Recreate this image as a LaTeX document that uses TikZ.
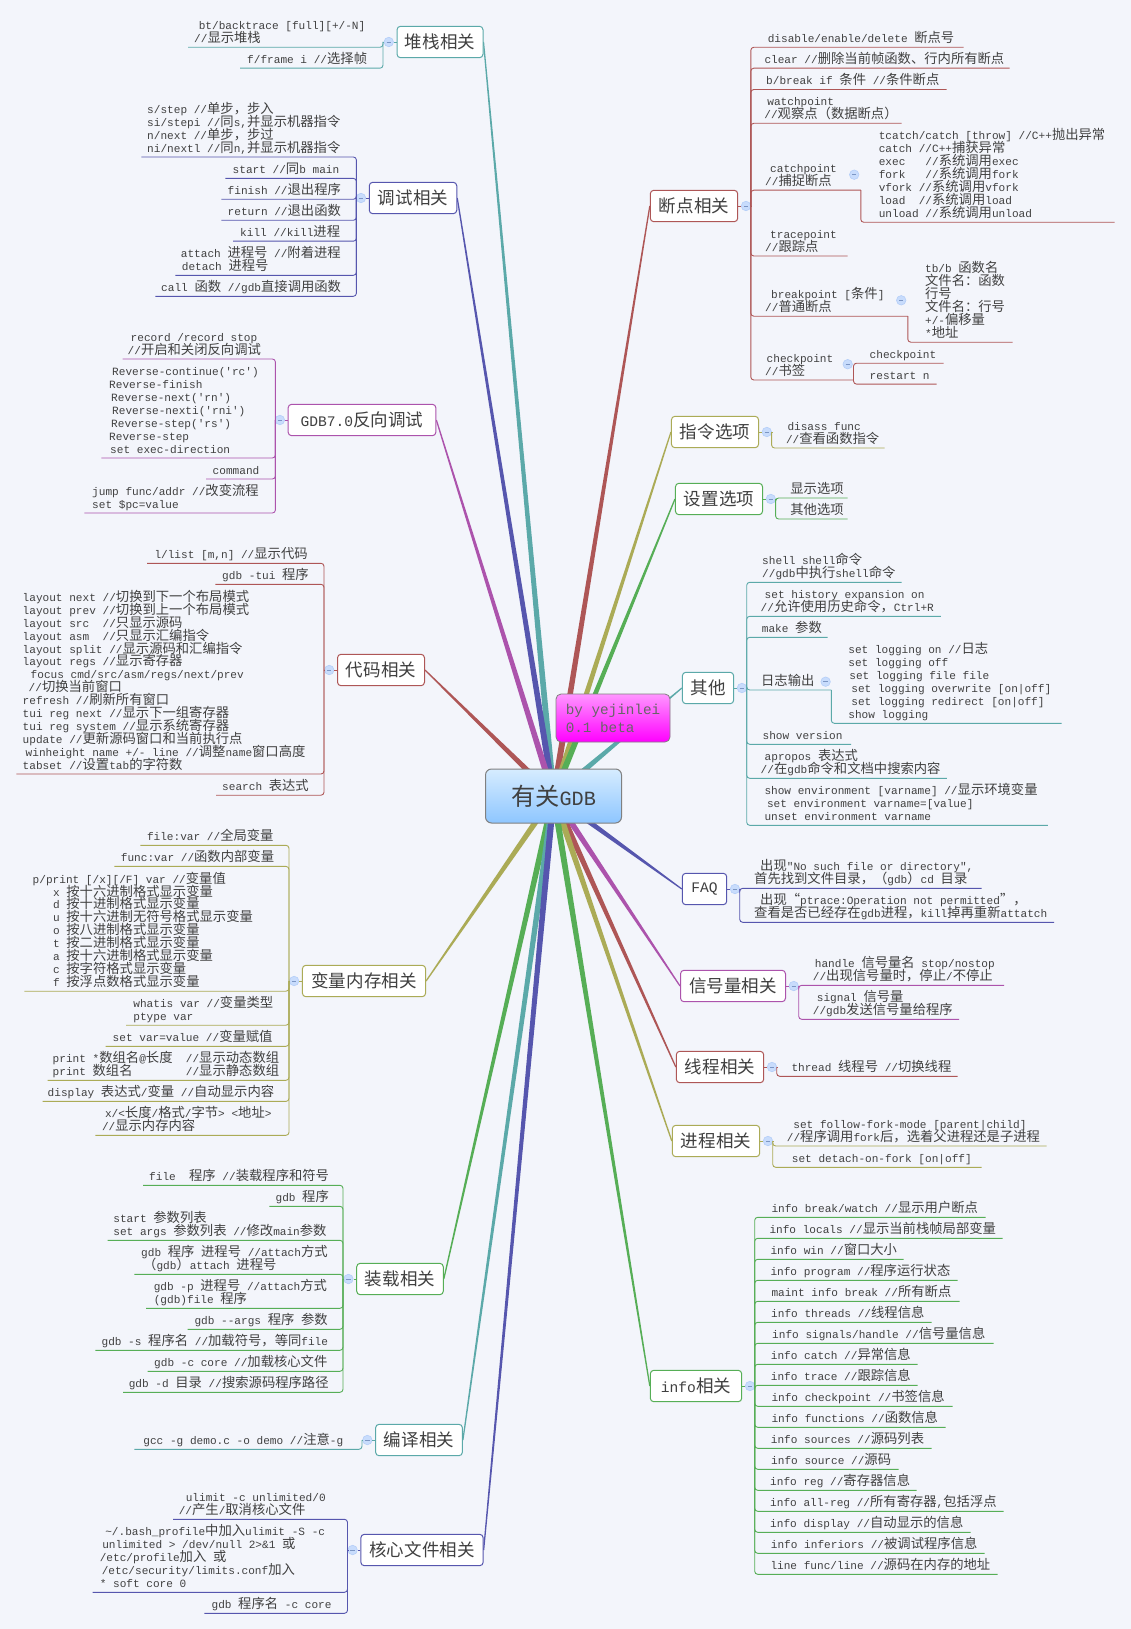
\documentclass[tikz,border=0pt]{standalone}
\usepackage{fontspec}
\setmonofont{Liberation Mono}
\newfontfamily\cjk[Scale=1.2]{Noto Sans CJK SC}
\usetikzlibrary{calc, positioning, backgrounds}

% CJK characters switch to the CJK family by themselves
\XeTeXinterchartokenstate=1
\newXeTeXintercharclass\cjkclass
\newcount\cjkcode
\newcommand\cjkrange[2]{\cjkcode=#1 \loop \XeTeXcharclass\cjkcode=\cjkclass \ifnum\cjkcode<#2 \advance\cjkcode 1 \repeat}
\cjkrange{"4E00}{"9FFF}
\cjkrange{"3000}{"303F}
\cjkrange{"FF00}{"FFEF}
\cjkrange{"201C}{"201D}
\XeTeXinterchartoks 0 \cjkclass = {\begingroup\cjk}
\XeTeXinterchartoks 4095 \cjkclass = {\begingroup\cjk}
\XeTeXinterchartoks \cjkclass 0 = {\endgroup}
\XeTeXinterchartoks \cjkclass 4095 = {\endgroup}

\definecolor{paper}{HTML}{F3F5FB}
\definecolor{inkgray}{HTML}{404040}
\definecolor{tealline}{HTML}{5BA9A9}
\definecolor{indigoline}{HTML}{5656AE}
\definecolor{purpleline}{HTML}{AC53AC}
\definecolor{redline}{HTML}{AE5656}
\definecolor{oliveline}{HTML}{ABAB56}
\definecolor{greenline}{HTML}{56AE56}
\definecolor{foldfill}{HTML}{C8DCFC}
\definecolor{folddraw}{HTML}{B4CEF8}
\definecolor{foldmark}{HTML}{7C96C4}
\definecolor{roottop}{HTML}{D6ECFF}
\definecolor{rootbottom}{HTML}{8EC6FF}
\definecolor{authortop}{HTML}{FF96FF}
\definecolor{authorbottom}{HTML}{FF00FF}

\tikzset{
  leaf/.style={anchor=south west, inner sep=0pt, text depth=4.7pt, align=left, text=inkgray,
    font=\ttfamily\fontsize{11.1}{12.9}\selectfont},
  leafline/.style={line width=.9pt, rounded corners=3pt},
  stub/.style={line width=.9pt, #1},
  branch/.style={draw=#1, line width=1pt, rounded corners=3.5pt, fill=white, minimum height=31.4pt,
    inner sep=0pt, text=inkgray, font=\ttfamily\fontsize{14.6}{18}\selectfont},
  fold/.style={circle, fill=foldfill, draw=folddraw, line width=.6pt, minimum size=9.5pt, inner sep=0pt,
    path picture={\draw[foldmark, line width=.5pt] ($(path picture bounding box.center)+(-2.2pt,0)$) -- ($(path picture bounding box.center)+(2.2pt,0)$);}},
  rootbox/.style={draw=gray, line width=1pt, rounded corners=6pt, top color=roottop, bottom color=rootbottom,
    minimum width=136pt, minimum height=54pt, inner sep=0pt, text=inkgray, font=\ttfamily\fontsize{20.2}{24}\selectfont},
  authorbox/.style={draw=gray, line width=.8pt, rounded corners=5pt, top color=authortop, bottom color=authorbottom,
    minimum width=114pt, minimum height=48pt, inner sep=0pt, align=left, text=black!60,
    font=\ttfamily\fontsize{14.3}{18}\selectfont}
}

% colour, hub, list of name/far end x/line y/text x/text
\newcommand\leaves[3]{%
  \foreach \lname/\lfar/\lposy/\lposx/\ltext in {#3}{
    \coordinate (\lname_end) at (\lfar,\lposy);
    \node[leaf] (\lname) at (\lposx,\lposy) {\ltext};
    \draw[leafline,#1] (#2) |- (\lname_end);
  }%
}
% colour, branch anchor
\newcommand\rootlink[2]{%
  \fill[#1] ($(root.center)!3.2pt!90:(#2)$) -- ($(#2)!.6pt!-90:(root.center)$)
    -- ($(#2)!.6pt!90:(root.center)$) -- ($(root.center)!3.2pt!-90:(#2)$) -- cycle;
}
\newcommand\leafshift[1]{\hskip#1pt\relax}

\begin{document}
\lineskiplimit=-6pt
\begin{tikzpicture}[x=1pt,y=-1pt]
  \useasboundingbox (0,0) rectangle (1131,1629);

  % branches on the left
  \node[branch=tealline, minimum width=86pt]    (stack) at (440,42)    {堆栈相关};
  \node[branch=indigoline, minimum width=87.5pt] (debug) at (413,198)   {调试相关};
  \node[branch=purpleline, minimum width=147.7pt] (rev)  at (362,420)   {GDB7.0反向调试};
  \node[branch=redline, minimum width=87pt]     (code)  at (381,670)   {代码相关};
  \node[branch=oliveline, minimum width=123.2pt] (var)  at (364,981)   {变量内存相关};
  \node[branch=greenline, minimum width=86.6pt] (load)  at (400,1279)  {装载相关};
  \node[branch=tealline, minimum width=86.8pt]  (comp)  at (419,1440)  {编译相关};
  \node[branch=indigoline, minimum width=122.3pt] (core) at (422,1550) {核心文件相关};

  % branches on the right
  \node[branch=redline, minimum width=87.4pt]   (bp)    at (694,206)   {断点相关};
  \node[branch=oliveline, minimum width=87.1pt] (cmdopt) at (715,432)  {指令选项};
  \node[branch=greenline, minimum width=87.1pt] (setopt) at (719,499)  {设置选项};
  \node[branch=tealline, minimum width=51.3pt]  (other) at (708,688)   {其他};
  \node[branch=indigoline, minimum width=44.4pt] (faq)  at (704.5,889) {FAQ};
  \node[branch=purpleline, minimum width=105pt] (sig)   at (733,986)   {信号量相关};
  \node[branch=redline, minimum width=87.4pt]   (thr)   at (720,1067)  {线程相关};
  \node[branch=oliveline, minimum width=87.4pt] (proc)  at (716,1141)  {进程相关};
  \node[branch=greenline, minimum width=91.4pt] (info)  at (696,1386)  {info相关};

  \node[rootbox]   (root)   at (553.5,796) {有关GDB};
  \node[authorbox] (author) at (613,718)   {by yejinlei\\0.1 beta};

  % links from the centre, under the boxes
  \begin{scope}[on background layer]
    \fill[paper] (0,0) rectangle (1131,1629);
    \rootlink{tealline}{stack.east}
    \rootlink{indigoline}{debug.east}
    \rootlink{purpleline}{rev.east}
    \rootlink{redline}{code.east}
    \rootlink{oliveline}{var.east}
    \rootlink{greenline}{load.east}
    \rootlink{tealline}{comp.east}
    \rootlink{indigoline}{core.east}
    \rootlink{redline}{bp.west}
    \rootlink{oliveline}{cmdopt.west}
    \rootlink{greenline}{setopt.west}
    \rootlink{tealline}{other.west}
    \rootlink{indigoline}{faq.west}
    \rootlink{purpleline}{sig.west}
    \rootlink{redline}{thr.west}
    \rootlink{oliveline}{proc.west}
    \rootlink{greenline}{info.west}
  \end{scope}

  % fold marks and hubs
  \node[fold, left=2.7pt of stack]  (stack_fold) {};
  \node[fold, left=2.7pt of debug]  (debug_fold) {};
  \node[fold, left=2.7pt of rev]    (rev_fold)   {};
  \node[fold, left=2.7pt of code]   (code_fold)  {};
  \node[fold, left=2.7pt of var]    (var_fold)   {};
  \node[fold, left=2.7pt of load]   (load_fold)  {};
  \node[fold, left=2.7pt of comp]   (comp_fold)  {};
  \node[fold, left=2.7pt of core]   (core_fold)  {};
  \node[fold, right=2.7pt of bp]    (bp_fold)    {};
  \node[fold, right=2.7pt of cmdopt] (cmdopt_fold) {};
  \node[fold, right=2.7pt of setopt] (setopt_fold) {};
  \node[fold, right=2.7pt of other] (other_fold) {};
  \node[fold, right=2.7pt of faq]   (faq_fold)   {};
  \node[fold, right=2.7pt of sig]   (sig_fold)   {};
  \node[fold, right=2.7pt of thr]   (thr_fold)   {};
  \node[fold, right=2.7pt of proc]  (proc_fold)  {};
  \node[fold, right=2.7pt of info]  (info_fold)  {};

  \coordinate (stack_hub)  at (383,42);
  \coordinate (debug_hub)  at (356.4,198);
  \coordinate (rev_hub)    at (275.4,420);
  \coordinate (code_hub)   at (324,670);
  \coordinate (var_hub)    at (289,981);
  \coordinate (load_hub)   at (343,1279);
  \coordinate (comp_hub)   at (362,1440);
  \coordinate (core_hub)   at (347.5,1550);
  \coordinate (bp_hub)     at (750.8,206);
  \coordinate (cmdopt_hub) at (771.6,432);
  \coordinate (setopt_hub) at (775.6,499);
  \coordinate (other_hub)  at (746.7,688);
  \coordinate (faq_hub)    at (739.7,889);
  \coordinate (sig_hub)    at (798.7,986);
  \coordinate (thr_hub)    at (776.7,1067);
  \coordinate (proc_hub)   at (772.7,1141);
  \coordinate (info_hub)   at (754.7,1386);

  \draw[stub=tealline]   (stack) -- (stack_fold) -- (stack_hub);
  \draw[stub=indigoline] (debug) -- (debug_fold) -- (debug_hub);
  \draw[stub=purpleline] (rev) -- (rev_fold) -- (rev_hub);
  \draw[stub=redline]    (code) -- (code_fold) -- (code_hub);
  \draw[stub=oliveline]  (var) -- (var_fold) -- (var_hub);
  \draw[stub=greenline]  (load) -- (load_fold) -- (load_hub);
  \draw[stub=tealline]   (comp) -- (comp_fold) -- (comp_hub);
  \draw[stub=indigoline] (core) -- (core_fold) -- (core_hub);
  \draw[stub=redline]    (bp) -- (bp_fold) -- (bp_hub);
  \draw[stub=oliveline]  (cmdopt) -- (cmdopt_fold) -- (cmdopt_hub);
  \draw[stub=greenline]  (setopt) -- (setopt_fold) -- (setopt_hub);
  \draw[stub=tealline]   (other) -- (other_fold) -- (other_hub);
  \draw[stub=indigoline] (faq) -- (faq_fold) -- (faq_hub);
  \draw[stub=purpleline] (sig) -- (sig_fold) -- (sig_hub);
  \draw[stub=redline]    (thr) -- (thr_fold) -- (thr_hub);
  \draw[stub=oliveline]  (proc) -- (proc_fold) -- (proc_hub);
  \draw[stub=greenline]  (info) -- (info_fold) -- (info_hub);

  % left side leaves
  \leaves{tealline}{stack_hub}{
    stack_bt/188/47.3/194/{\leafshift{4.6}bt/backtrace [full][+/-N]\\//显示堆栈},
    stack_frame/240/68.2/247/{f/frame i //选择帧}}

  \leaves{indigoline}{debug_hub}{
    debug_step/141.4/157/147/{s/step //单步，步入\\si/stepi //同s,并显示机器指令\\n/next //单步，步过\\ni/nextl //同n,并显示机器指令},
    debug_start/225.4/178.4/232.5/{start //同b main},
    debug_finish/221.4/199.3/227.5/{finish //退出程序},
    debug_return/221.4/220.3/227.5/{return //退出函数},
    debug_kill/233.2/241.2/240/{kill //kill进程},
    debug_attach/175.4/275.3/180.7/{attach 进程号 //附着进程\\\leafshift{1}detach 进程号},
    debug_call/155.4/296.3/161/{call 函数 //gdb直接调用函数}}

  \leaves{purpleline}{rev_hub}{
    rev_record/122.5/359/127.5/{\leafshift{3}record /record stop\\//开启和关闭反向调试},
    rev_cont/101.4/458/109/{\leafshift{3}Reverse-continue('rc')\\Reverse-finish\\\leafshift{2}Reverse-next('rn')\\\leafshift{3}Reverse-nexti('rni')\\\leafshift{2}Reverse-step('rs')\\Reverse-step\\\leafshift{1}set exec-direction},
    rev_command/206/479/212.5/{command},
    rev_jump/84.3/513/92/{jump func/addr //改变流程\\set \$pc=value}}

  \leaves{redline}{code_hub}{
    code_list/147/563.3/154.3/{l/list [m,n] //显示代码},
    code_tui/215.4/584.3/222/{gdb -tui 程序},
    code_layout/16.4/774/22.5/{layout next //切换到下一个布局模式\\layout prev //切换到上一个布局模式\\layout src~~//只显示源码\\layout asm~~//只显示汇编指令\\layout split //显示源码和汇编指令\\layout regs //显示寄存器\\\leafshift{8}focus cmd/src/asm/regs/next/prev\\\leafshift{6}//切换当前窗口\\refresh //刷新所有窗口\\tui reg next //显示下一组寄存器\\tui reg system //显示系统寄存器\\update //更新源码窗口和当前执行点\\\leafshift{3}winheight name +/- line //调整name窗口高度\\tabset //设置tab的字符数},
    code_search/216/795.2/222/{search 表达式}}

  \leaves{oliveline}{var_hub}{
    var_file/140.4/845.3/146.8/{file:var //全局变量},
    var_func/114.3/866.4/120.7/{func:var //函数内部变量},
    var_print/24.3/991.2/32.5/{p/print [/x][/F] var //变量值\\\leafshift{20.4}x 按十六进制格式显示变量\\\leafshift{20.4}d 按十进制格式显示变量\\\leafshift{20.4}u 按十六进制无符号格式显示变量\\\leafshift{20.4}o 按八进制格式显示变量\\\leafshift{20.4}t 按二进制格式显示变量\\\leafshift{20.4}a 按十六进制格式显示变量\\\leafshift{20.4}c 按字符格式显示变量\\\leafshift{20.4}f 按浮点数格式显示变量},
    var_whatis/126/1025.2/133.2/{whatis var //变量类型\\ptype var},
    var_set/105.7/1046.3/112.5/{set var=value //变量赋值},
    var_array/47.5/1080.3/52.5/{print *数组名@长度~~//显示动态数组\\print 数组名~~~~~~~~//显示静态数组},
    var_display/42.5/1101.4/47.5/{display 表达式/变量 //自动显示内容},
    var_mem/95.4/1135.3/101.8/{\leafshift{3}x/<长度/格式/字节> <地址>\\//显示内存内容}}

  \leaves{greenline}{load_hub}{
    load_file/143/1185.3/149/{file~~程序 //装载程序和符号},
    load_gdb/269.3/1206.3/275.4/{gdb 程序},
    load_start/107.5/1240.3/113.2/{start 参数列表\\set args 参数列表 //修改main参数},
    load_attach/134.3/1274.3/141/{gdb 程序 进程号 //attach方式\\\leafshift{2}（gdb）attach 进程号},
    load_pid/146/1308.3/153.6/{gdb -p 进程号 //attach方式\\(gdb)file 程序},
    load_args/187.5/1329.3/194.3/{gdb --args 程序 参数},
    load_sym/95.4/1350.3/101.4/{gdb -s 程序名 //加载符号，等同file},
    load_core/147.5/1371.3/154/{gdb -c core //加载核心文件},
    load_dir/123.2/1392.3/128.6/{gdb -d 目录 //搜索源码程序路径}}

  \leaves{tealline}{comp_hub}{
    comp_gcc/134.3/1449.3/143.2/{gcc -g demo.c -o demo //注意-g}}

  \leaves{indigoline}{core_hub}{
    core_ulimit/173.2/1519.3/178.6/{\leafshift{7}ulimit -c unlimited/0\\//产生/取消核心文件},
    core_bash/92.5/1592.3/99.6/{\leafshift{5.5}\textasciitilde/.bash\_profile中加入ulimit -S -c\\\leafshift{2.5}unlimited > /dev/null 2>\&1 或\\/etc/profile加入 或\\\leafshift{2}/etc/security/limits.conf加入\\* soft core 0},
    core_gdb/204.3/1613.3/211.4/{gdb 程序名 -c core}}

  % right side leaves
  \leaves{redline}{bp_hub}{
    bp_disable/963.5/47.3/767.6/{disable/enable/delete 断点号},
    bp_clear/1009.7/68.2/764.3/{clear //删除当前帧函数、行内所有断点},
    bp_break/946.7/89.5/766/{b/break if 条件 //条件断点},
    bp_watch/901.6/123.3/764.2/{\leafshift{3}watchpoint\\//观察点（数据断点）},
    bp_catch/860.8/190.2/765/{\leafshift{5}catchpoint\\//捕捉断点},
    bp_trace/847.7/256/765/{\leafshift{5}tracepoint\\//跟踪点},
    bp_point/907.8/316.2/765/{\leafshift{6}breakpoint [条件]\\//普通断点},
    bp_check/853.5/380/765/{\leafshift{1.5}checkpoint\\//书签}}

  \node[fold] (bp_catch_fold) at (854.2,174.7) {};
  \leaves{redline}{bp_catch_end}{
    bp_catch_list/1114.6/222.3/878.6/{tcatch/catch [throw] //C++抛出异常\\catch //C++捕获异常\\exec~~~//系统调用exec\\fork~~~//系统调用fork\\vfork //系统调用vfork\\load~~//系统调用load\\unload //系统调用unload}}

  \node[fold] (bp_point_fold) at (901.2,300.3) {};
  \leaves{redline}{bp_point_end}{
    bp_point_list/1012.7/342.2/924.9/{tb/b 函数名\\文件名：函数\\行号\\文件名：行号\\+/-偏移量\\*地址}}

  \node[fold] (bp_check_fold) at (847.7,364.2) {};
  \leaves{redline}{bp_check_end}{
    bp_check_a/943.5/363.2/869.5/{checkpoint},
    bp_check_b/936.5/384.1/869.5/{restart n}}

  \leaves{oliveline}{cmdopt_hub}{
    cmdopt_disass/884.5/448/785.8/{\leafshift{1.5}disass func\\//查看函数指令}}

  \leaves{greenline}{setopt_hub}{
    setopt_show/847.7/498/790.2/{显示选项},
    setopt_other/847.7/519/790.2/{其他选项}}

  \leaves{tealline}{other_hub}{
    other_shell/901.7/582.3/762/{shell shell命令\\//gdb中执行shell命令},
    other_hist/940.8/616.3/760.5/{\leafshift{4}set history expansion on\\//允许使用历史命令，Ctrl+R},
    other_make/827.5/637.3/761.7/{make 参数},
    other_log/831.3/690/760.9/{日志输出},
    other_ver/851.2/744.3/762.4/{show version},
    other_apro/946.9/778.3/760.5/{\leafshift{4}apropos 表达式\\//在gdb命令和文档中搜索内容},
    other_env/1047.9/825.3/764.3/{show environment [varname] //显示环境变量\\\leafshift{2.5}set environment varname=[value]\\unset environment varname}}

  \node[fold] (other_log_fold) at (825.6,681.7) {};
  \leaves{tealline}{other_log_end}{
    other_log_list/1061.7/723.3/848.2/{set logging on //日志\\set logging off\\\leafshift{1}set logging file file\\\leafshift{3}set logging overwrite [on|off]\\\leafshift{3}set logging redirect [on|off]\\show logging}}

  \leaves{indigoline}{faq_hub}{
    faq_file/981.7/888.3/754/{\leafshift{6}出现"No such file or directory",\\首先找到文件目录，（gdb）cd 目录},
    faq_ptrace/1054/922.3/754/{\leafshift{6}出现“ptrace:Operation not permitted”，\\查看是否已经存在gdb进程，kill掉再重新attatch}}

  \leaves{purpleline}{sig_hub}{
    sig_handle/1004/985.3/812.7/{\leafshift{2}handle 信号量名 stop/nostop\\//出现信号量时，停止/不停止},
    sig_signal/959/1019.3/812.7/{\leafshift{4}signal 信号量\\//gdb发送信号量给程序}}

  \leaves{redline}{thr_hub}{
    thr_thread/957.7/1076.3/791.3/{thread 线程号 //切换线程}}

  \leaves{oliveline}{proc_hub}{
    proc_follow/1046.7/1146/786.7/{\leafshift{6.5}set follow-fork-mode [parent|child]\\//程序调用fork后，选着父进程还是子进程},
    proc_detach/981.7/1167.3/791.7/{set detach-on-fork [on|off]}}

  \leaves{greenline}{info_hub}{
    info_break/985.7/1217.3/771.3/{info break/watch //显示用户断点},
    info_locals/1002.7/1238.3/769.3/{info locals //显示当前栈帧局部变量},
    info_win/903.7/1259.3/770.3/{info win //窗口大小},
    info_prog/957.7/1280.3/770.3/{info program //程序运行状态},
    info_maint/959.7/1301.3/771.3/{maint info break //所有断点},
    info_thr/931.7/1322.3/771/{info threads //线程信息},
    info_sig/993.7/1343.3/772/{info signals/handle //信号量信息},
    info_catch/917.7/1364.3/770.7/{info catch //异常信息},
    info_trace/917.7/1385.3/770.7/{info trace //跟踪信息},
    info_check/952.7/1406.3/771.3/{info checkpoint //书签信息},
    info_func/945.7/1427.3/771.3/{info functions //函数信息},
    info_srcs/931.7/1448.3/770.7/{info sources //源码列表},
    info_src/898.7/1469.3/771/{info source //源码},
    info_reg/916.7/1490.3/770/{info reg //寄存器信息},
    info_allreg/1003.7/1511.3/770/{info all-reg //所有寄存器,包括浮点},
    info_disp/970.7/1532.3/770/{info display //自动显示的信息},
    info_inf/984.7/1553.3/770.7/{info inferiors //被调试程序信息},
    info_line/997.7/1574.3/770.3/{line func/line //源码在内存的地址}}
\end{tikzpicture}
\end{document}
